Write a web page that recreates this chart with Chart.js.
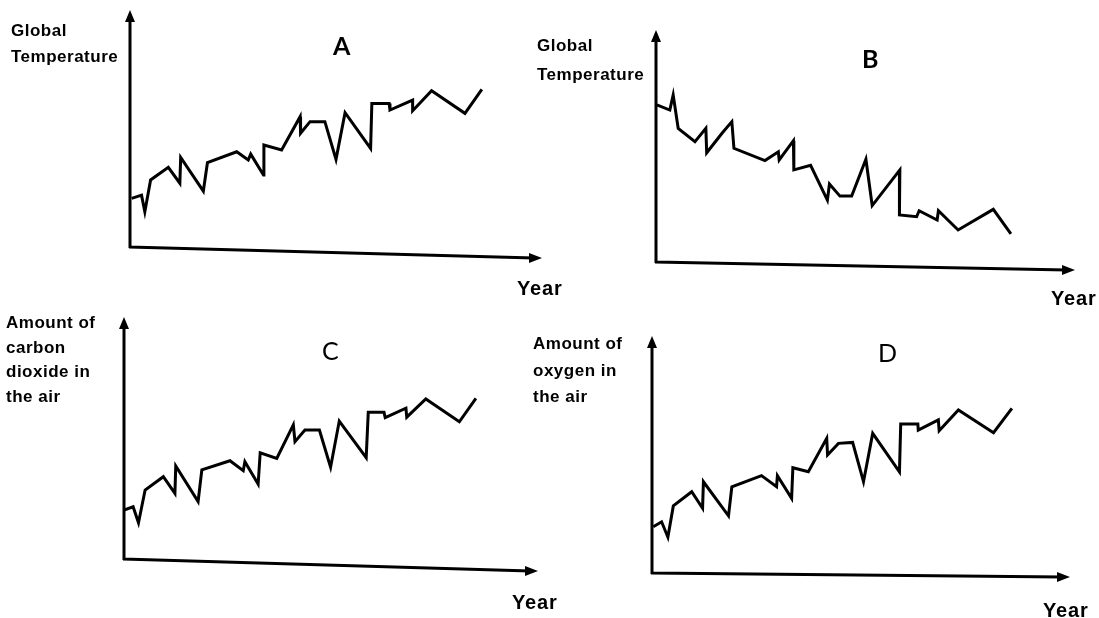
<!DOCTYPE html>
<html>
<head>
<meta charset="utf-8">
<script src="https://cdn.jsdelivr.net/npm/chart.js@4.4.1/dist/chart.umd.min.js"></script>
<style>
html, body { margin: 0; padding: 0; background: #fff; }
#page { position: relative; width: 1099px; height: 618px; overflow: hidden; }
canvas { position: absolute; left: 0; top: 0; }
.lbl { position: absolute; font-family: "Liberation Sans", Arial, sans-serif; font-weight: bold; font-size: 17px; color: #000; line-height: 1; white-space: nowrap; letter-spacing: 0.5px; }
.year { font-size: 20px; letter-spacing: 0.8px; }
.letter { position: absolute; font-family: Lato, "Open Sans", sans-serif; font-size: 25px; color: #000; line-height: 1; }
</style>
</head>
<body>
<div id="page">
  <canvas id="chartA" width="1099" height="618"></canvas>
  <canvas id="chartB" width="1099" height="618"></canvas>
  <canvas id="chartC" width="1099" height="618"></canvas>
  <canvas id="chartD" width="1099" height="618"></canvas>

  <div class="lbl" style="left:11px; top:22px;">Global</div>
  <div class="lbl" style="left:11px; top:48px;">Temperature</div>
  <div class="letter" style="left:333px; top:33px; font-weight:bold;">A</div>
  <div class="lbl year" style="left:517px; top:278px;">Year</div>

  <div class="lbl" style="left:537px; top:37px;">Global</div>
  <div class="lbl" style="left:537px; top:66px;">Temperature</div>
  <div class="letter" style="left:862px; top:46px; font-weight:bold;">B</div>
  <div class="lbl year" style="left:1051px; top:288px;">Year</div>

  <div class="lbl" style="left:6px; top:314px;">Amount of</div>
  <div class="lbl" style="left:6px; top:339px;">carbon</div>
  <div class="lbl" style="left:6px; top:363px;">dioxide in</div>
  <div class="lbl" style="left:6px; top:388px;">the air</div>
  <div class="letter" style="left:322px; top:338px;">C</div>
  <div class="lbl year" style="left:512px; top:592px;">Year</div>

  <div class="lbl" style="left:533px; top:335px;">Amount of</div>
  <div class="lbl" style="left:533px; top:362px;">oxygen in</div>
  <div class="lbl" style="left:533px; top:388px;">the air</div>
  <div class="letter" style="left:878px; top:340px;">D</div>
  <div class="lbl year" style="left:1043px; top:600px;">Year</div>
</div>

<script>
// Datos (0-100 = largo del eje)
const aYears = [0.4, 2.8, 3.6, 5.0, 9.3, 12.1, 12.3, 17.8, 18.8, 25.9, 28.7, 29.3, 32.4, 32.5, 36.8, 41.3, 41.4, 43.7, 47.3, 50.0, 52.2, 58.4, 58.7, 62.9, 63.1, 68.6, 68.6, 73.2, 81.3, 85.4];
const aTemp  = [20.5, 21.9, 14.9, 28.3, 33.6, 26.9, 37.8, 23.6, 35.6, 40.2, 36.7, 39.2, 30.4, 43.0, 40.9, 55.0, 48.0, 52.9, 52.9, 37.0, 56.7, 41.6, 60.6, 60.6, 57.8, 62.0, 57.5, 65.9, 56.4, 66.5];

const bYears = [0.2, 3.3, 4.1, 5.3, 9.3, 11.9, 12.1, 15.8, 18.1, 18.6, 26.0, 29.2, 29.4, 32.8, 32.9, 36.9, 40.9, 41.4, 43.9, 46.7, 50.1, 51.6, 58.2, 58.1, 62.2, 62.8, 67.1, 67.4, 72.1, 80.5, 84.7];
const bTemp  = [67.7, 65.5, 72.0, 57.6, 51.9, 57.6, 47.1, 55.6, 60.5, 49.0, 43.7, 47.5, 44.0, 52.3, 39.7, 41.7, 26.7, 33.6, 28.4, 28.4, 44.3, 24.3, 39.7, 20.3, 19.5, 22.1, 18.1, 22.1, 13.8, 22.7, 12.1];

const cYears = [0.0, 2.2, 3.5, 5.1, 9.5, 12.3, 12.5, 17.9, 18.8, 25.6, 28.8, 29.2, 32.4, 32.9, 36.9, 40.9, 41.3, 43.7, 47.2, 49.9, 52.0, 58.5, 59.0, 62.8, 63.1, 68.1, 68.3, 72.9, 81.0, 85.0];
const cCO2   = [20.2, 21.6, 15.0, 28.5, 34.0, 27.1, 38.4, 23.7, 36.8, 40.6, 36.5, 40.2, 31.0, 43.9, 41.6, 55.4, 48.5, 53.3, 53.3, 37.9, 57.0, 41.9, 60.6, 60.6, 58.4, 62.3, 58.6, 66.1, 56.7, 66.4];

const dYears = [0.3, 2.3, 3.8, 5.1, 9.5, 12.1, 12.3, 18.3, 19.1, 26.2, 29.8, 30.0, 33.4, 33.7, 37.4, 41.8, 42.0, 44.6, 48.0, 50.6, 52.8, 59.2, 59.5, 63.6, 63.7, 68.5, 68.7, 73.3, 81.7, 86.1];
const dO2    = [19.5, 21.6, 15.1, 28.3, 34.3, 27.3, 38.5, 24.1, 36.4, 41.1, 36.4, 41.1, 31.5, 44.4, 42.7, 56.8, 49.8, 54.7, 55.1, 38.5, 58.9, 42.7, 62.9, 62.9, 60.3, 64.6, 60.0, 68.8, 59.2, 69.5];

// Posición de cada panel en la página (px)
const W = 1099, H = 618;
const boxA = { left: 130, right: 542, top: 10, bottom: 247, tilt: 11 };
const boxB = { left: 656, right: 1075, top: 30, bottom: 262, tilt: 8 };
const boxC = { left: 124, right: 538, top: 317, bottom: 559, tilt: 12 };
const boxD = { left: 652, right: 1070, top: 336, bottom: 573, tilt: 4 };

// Ejes con flechas
const axisArrows = {
    id: 'axisArrows',
    beforeDatasetsDraw(chart, args, opts) {
        const ctx = chart.ctx;
        const x0 = chart.scales.x.getPixelForValue(0);
        const x1 = chart.scales.x.getPixelForValue(100);
        const y0 = chart.scales.y.getPixelForValue(0);
        const y1 = chart.scales.y.getPixelForValue(100);
        const tilt = opts.tilt || 0;
        ctx.save();
        ctx.strokeStyle = '#000';
        ctx.fillStyle = '#000';
        ctx.lineWidth = 3;
        ctx.beginPath();
        ctx.moveTo(x0, y0 + 1);
        ctx.lineTo(x0, y1 + 8);
        ctx.moveTo(x0 - 1, y0);
        ctx.lineTo(x1 - 8, y0 + tilt);
        ctx.stroke();
        // flecha vertical
        ctx.beginPath();
        ctx.moveTo(x0, y1);
        ctx.lineTo(x0 - 5, y1 + 12);
        ctx.lineTo(x0 + 5, y1 + 12);
        ctx.closePath();
        ctx.fill();
        // flecha horizontal
        ctx.beginPath();
        ctx.moveTo(x1, y0 + tilt);
        ctx.lineTo(x1 - 13, y0 + tilt - 5);
        ctx.lineTo(x1 - 13, y0 + tilt + 5);
        ctx.closePath();
        ctx.fill();
        ctx.restore();
    }
};

function makePanel(id, xs, ys, box) {
    const ctx = document.getElementById(id).getContext('2d');
    return new Chart(ctx, {
        type: 'line',
        data: {
            datasets: [{
                data: xs.map((x, i) => ({ x: x, y: ys[i] })),
                borderColor: '#000',
                borderWidth: 3,
                borderJoinStyle: 'miter',
                pointRadius: 0,
                tension: 0,
                fill: false
            }]
        },
        options: {
            responsive: false,
            animation: false,
            events: [],
            layout: {
                padding: { left: box.left, right: W - box.right, top: box.top, bottom: H - box.bottom }
            },
            scales: {
                x: { type: 'linear', min: 0, max: 100, display: false },
                y: { type: 'linear', min: 0, max: 100, display: false }
            },
            plugins: {
                legend: { display: false },
                tooltip: { enabled: false },
                axisArrows: { tilt: box.tilt }
            }
        },
        plugins: [axisArrows]
    });
}

makePanel('chartA', aYears, aTemp, boxA);
makePanel('chartB', bYears, bTemp, boxB);
makePanel('chartC', cYears, cCO2, boxC);
makePanel('chartD', dYears, dO2, boxD);
</script>
</body>
</html>
